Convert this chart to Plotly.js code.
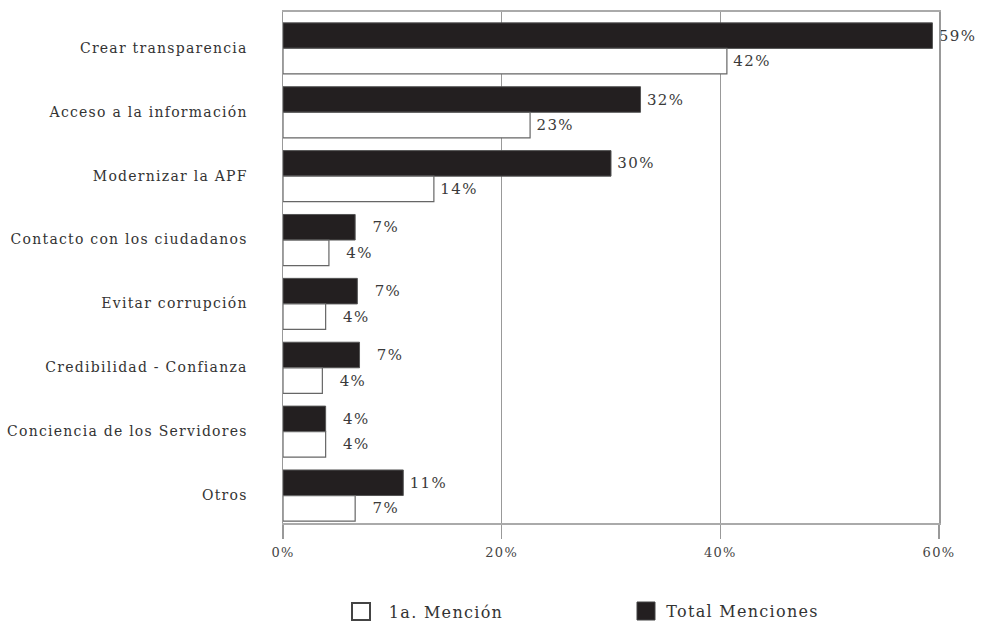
<!DOCTYPE html>
<html>
<head>
<meta charset="utf-8">
<script src="https://cdn.plot.ly/plotly-3.0.1.min.js"></script>
<style>
html,body{margin:0;padding:0;background:#fff;}
#chart{width:982px;height:624px;}
#chart .ytick text{letter-spacing:1.25px;}
#chart .xtick text{letter-spacing:1.3px;}
#chart text.bartext{letter-spacing:1.4px;}
#chart .annotation-text{letter-spacing:1.3px;}
</style>
</head>
<body>
<div id="chart"></div>
<script>
const categories = [
  "Crear transparencia",
  "Acceso a la información",
  "Modernizar la APF",
  "Contacto con los ciudadanos",
  "Evitar corrupción",
  "Credibilidad - Confianza",
  "Conciencia de los Servidores",
  "Otros"
];
// bar lengths as drawn (percent)
const totalMenciones = [59.4, 32.7, 30.0, 6.6, 6.8, 7.0, 3.9, 11.0];
const primeraMencion = [40.6, 22.6, 13.8, 4.2, 3.9, 3.6, 3.9, 6.6];
// printed labels
const totalLabels = ["59%", "32%", "30%", "7%", "7%", "7%", "4%", "11%"];
const primeraLabels = ["42%", "23%", "14%", "4%", "4%", "4%", "4%", "7%"];
const xTickVals = [0, 20, 40, 60];
const xTickText = ["0%", "20%", "40%", "60%"];
const seriesNames = ["1a. Mención", "Total Menciones"];

const font = "DejaVu Serif, Liberation Serif, serif";
// pad single-digit labels with a figure space, as in the original
const pad = t => "\u00a0" + (t.length < 3 ? "\u2007" + t : t);

const traces = [
  {
    type: "bar", orientation: "h", name: seriesNames[1],
    y: categories, x: totalMenciones, width: 0.4, offset: -0.33,
    text: totalLabels.map(pad), textposition: "outside", cliponaxis: false,
    textfont: {family: font, size: 15, color: "#3a3a3a"},
    marker: {color: "#231f20", line: {color: "#555", width: 1}},
    hoverinfo: "skip"
  },
  {
    type: "bar", orientation: "h", name: seriesNames[0],
    y: categories, x: primeraMencion, width: 0.4, offset: 0.07,
    text: primeraLabels.map(pad), textposition: "outside", cliponaxis: false,
    textfont: {family: font, size: 15, color: "#3a3a3a"},
    marker: {color: "#ffffff", line: {color: "#666", width: 1.2}},
    hoverinfo: "skip"
  }
];

// manual legend (paper coordinates)
const L = 283, R = 939, T = 12, B = 523;
const px = v => (v - L) / (R - L);
const py = v => (B - v) / (B - T);

const layout = {
  width: 982, height: 624,
  margin: {l: L, r: 982 - R, t: T, b: 624 - B},
  paper_bgcolor: "#fff", plot_bgcolor: "#fff",
  barmode: "group", bargap: 0.2, bargroupgap: 0,
  font: {family: font, size: 14, color: "#333"},
  showlegend: false,
  xaxis: {
    range: [0, 60], tickvals: xTickVals, ticktext: xTickText,
    showgrid: true, gridcolor: "#999", gridwidth: 1.3,
    showline: true, linecolor: "#aaa", linewidth: 2, mirror: true,
    ticks: "outside", ticklen: 14, tickcolor: "#999", tickwidth: 1.3,
    ticklabelstandoff: 2,
    tickfont: {family: font, size: 13, color: "#444"},
    zeroline: false, fixedrange: true
  },
  yaxis: {
    autorange: "reversed",
    showline: true, linecolor: "#999", linewidth: 1.5, mirror: true,
    ticks: "", ticklabelstandoff: 31, ticklabelshift: -4,
    tickfont: {family: font, size: 14, color: "#333"},
    fixedrange: true
  },
  shapes: [
    {type: "rect", xref: "paper", yref: "paper",
     x0: px(352), x1: px(370), y0: py(603), y1: py(620),
     fillcolor: "#fff", line: {color: "#444", width: 2}},
    {type: "rect", xref: "paper", yref: "paper",
     x0: px(637), x1: px(655), y0: py(602), y1: py(620),
     fillcolor: "#231f20", line: {color: "#444", width: 1}}
  ],
  annotations: [
    {xref: "paper", yref: "paper", x: px(394), y: py(612), xanchor: "left", yanchor: "middle",
     text: seriesNames[0], showarrow: false, font: {family: font, size: 16, color: "#333"}},
    {xref: "paper", yref: "paper", x: px(674), y: py(611), xanchor: "left", yanchor: "middle",
     text: seriesNames[1], showarrow: false, font: {family: font, size: 16, color: "#333"}}
  ]
};

Plotly.newPlot("chart", traces, layout, {displayModeBar: false, staticPlot: true});
</script>
</body>
</html>
